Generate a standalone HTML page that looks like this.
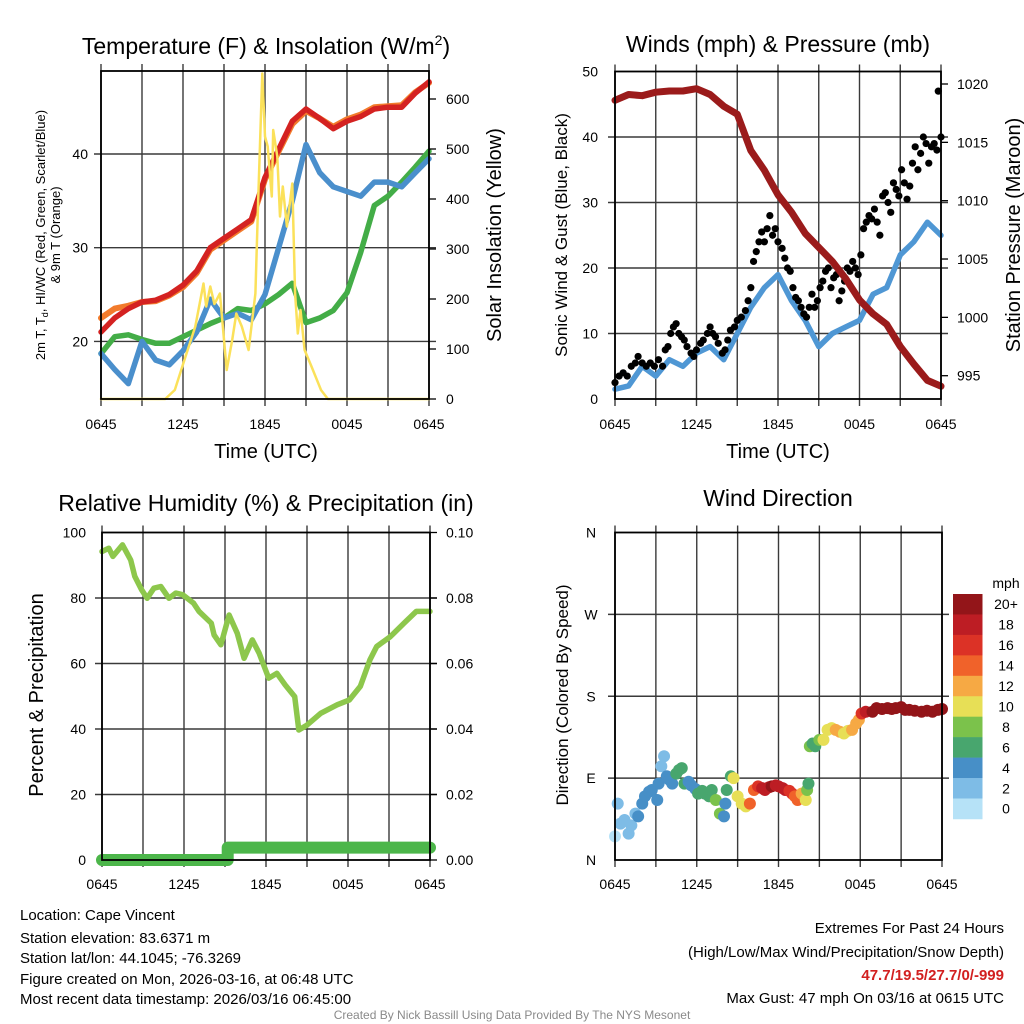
<!DOCTYPE html>
<html><head><meta charset="utf-8"><style>
html,body{margin:0;padding:0;background:#fff;}
svg{display:block;font-family:"Liberation Sans",Arial,sans-serif;}
</style></head><body>
<svg id="chart" width="1024" height="1024" viewBox="0 0 1024 1024" xmlns="http://www.w3.org/2000/svg">
<rect x="0" y="0" width="1024" height="1024" fill="#fff"/>
<g font-size="23" text-anchor="middle" fill="#000">
<text x="266" y="54">Temperature (F) &amp; Insolation (W/m<tspan dy="-9" font-size="14">2</tspan><tspan dy="9">)</tspan></text>
<text x="778" y="52">Winds (mph) &amp; Pressure (mb)</text>
<text x="266" y="511">Relative Humidity (%) &amp; Precipitation (in)</text>
<text x="778" y="506">Wind Direction</text>
</g>
<g font-size="20" text-anchor="middle">
<text x="266" y="458">Time (UTC)</text>
<text x="778" y="458">Time (UTC)</text>
<text transform="translate(501,235) rotate(-90)">Solar Insolation (Yellow)</text>
<text transform="translate(1020,235) rotate(-90)">Station Pressure (Maroon)</text>
<text transform="translate(43,695) rotate(-90)">Percent &amp; Precipitation</text>
</g>
<g font-size="17" text-anchor="middle">
<text transform="translate(567,235) rotate(-90)">Sonic Wind &amp; Gust (Blue, Black)</text>
<text transform="translate(568,695) rotate(-90)">Direction (Colored By Speed)</text>
</g>
<g font-size="13" text-anchor="middle">
<text transform="translate(45,235) rotate(-90)">2m T, T<tspan dy="3" font-size="9">d</tspan><tspan dy="-3">, HI/WC (Red, Green, Scarlet/Blue)</tspan></text>
<text transform="translate(60,235) rotate(-90)">&amp; 9m T (Orange)</text>
</g>
<g font-size="15" fill="#000">
<text x="20" y="920">Location: Cape Vincent</text>
<text x="20" y="943">Station elevation: 83.6371 m</text>
<text x="20" y="963">Station lat/lon: 44.1045; -76.3269</text>
<text x="20" y="984">Figure created on Mon, 2026-03-16, at 06:48 UTC</text>
<text x="20" y="1004">Most recent data timestamp: 2026/03/16 06:45:00</text>
<g text-anchor="end">
<text x="1004" y="933">Extremes For Past 24 Hours</text>
<text x="1004" y="957">(High/Low/Max Wind/Precipitation/Snow Depth)</text>
<text x="1004" y="980" fill="#d22020" font-weight="bold">47.7/19.5/27.7/0/-999</text>
<text x="1004" y="1003">Max Gust: 47 mph On 03/16 at 0615 UTC</text>
</g>
</g>
<text x="512" y="1019" font-size="12" fill="#8a8a8a" text-anchor="middle">Created By Nick Bassill Using Data Provided By The NYS Mesonet</text>
<text x="1006" y="588" font-size="14" text-anchor="middle">mph</text>
<g id="layer"></g>
</svg>
<script>
// ---- data ----
const hours=[0,1,2,3,4,5,6,7,8,9,10,11,12,13,14,15,16,17,18,19,20,21,22,23,24];
const timeTicks=[0,6,12,18,24];
const timeLabels=['0645','1245','1845','0045','0645'];
const tempRed=[21,22.5,23.5,24.2,24.4,25,26,27.5,30,31,32,33,37.5,40.5,43.5,44.8,43.8,42.7,43.5,44,44.8,45,45,46.5,47.7];
const tempOrange=[22.5,23.5,23.8,24.2,24.3,24.9,25.8,27.3,29.8,30.8,31.8,32.8,37.3,40.3,43.2,44.6,43.8,42.9,43.7,44.2,45,45.1,45.2,46.6,47.6];
const tempBlue=[18.7,17,15.5,20,18,17.5,19,21,24.5,22.5,23,22.3,25,30,35,41,38,36.5,36,35.5,37,37,36.5,38,39.5];
const tempGreen=[18.7,20.5,20.7,20.2,19.8,19.8,20.5,21.2,21.9,22.5,23.5,23.3,24,25,26.2,22,22.5,23.3,25.2,29.5,34.5,35.5,37,38.6,40.3];
const solarT=[0,4.7,5.4,6.1,6.9,7.5,7.7,8,8.3,8.7,9.2,9.6,9.9,10.3,10.8,11.3,11.5,11.8,12,12.2,12.5,12.6,12.9,13.1,13.3,13.6,14,14.2,14.4,14.6,14.9,15.4,16.1,16.6,24];
const solarV=[0,0,18,78,145,231,185,225,190,211,58,118,171,145,98,211,398,651,525,505,405,538,485,365,425,345,431,211,131,178,98,65,18,0,0];
const windSpeed=[1.5,2,5,3.5,6,5,7,8,6,10,14,17,19,15,12,8,10,11,12,16,17,22,24,27,25];
const gustT=[0,0.3,0.6,0.9,1.2,1.5,1.7,2,2.3,2.6,2.9,3.2,3.5,3.7,3.9,4.1,4.3,4.5,4.7,4.9,5.1,5.3,5.6,5.8,6,6.3,6.5,6.8,7,7.2,7.4,7.6,7.9,8.1,8.3,8.5,8.8,9,9.3,9.6,9.8,10,10.2,10.4,10.6,10.8,11,11.2,11.4,11.6,11.8,12,12.3,12.5,12.7,12.9,13.1,13.3,13.5,13.7,13.9,14.1,14.3,14.5,14.7,14.9,15.1,15.3,15.5,15.7,15.9,16.1,16.3,16.5,16.7,16.9,17.1,17.3,17.5,17.7,17.9,18.1,18.3,18.5,18.7,18.9,19.1,19.3,19.5,19.7,19.9,20.1,20.3,20.5,20.7,20.9,21.1,21.3,21.5,21.7,21.9,22.1,22.3,22.5,22.7,22.9,23.1,23.3,23.5,23.7,23.8,24];
const gustV=[2.5,3.5,4,3.5,5,5.5,6.5,5.5,5,5.5,5,6,5,7.5,8,10,11,11.5,10,9.5,9,8,7,6.5,7.5,8.5,9,10,11,10,9.5,8.5,7,7.5,9,10.5,11,12,12.5,13.5,15,17,21,22.5,24,25.5,24,26,28,25,26,24,23,21.5,20,19.5,17,15.5,15,14,13,12.5,14,16,14,15,17,18,19.5,20,17,18.5,19,15,16.5,18,20,19.5,21,20,19,22,26,27,28,27.5,29,27,25,31,31.5,30,28.5,33,32,31,35,33,30.5,32.5,36,38.5,35,37.5,40,39,36,38.5,39,38,47,40];
const pressure=[1018.6,1019.1,1019,1019.3,1019.4,1019.4,1019.6,1019.1,1018.1,1017.4,1014.3,1012.6,1010.5,1009,1007.2,1006,1004.8,1003.3,1001.5,1000.3,999.4,997.5,996,994.6,994.1];
const rhT=[0,0.5,0.8,1.5,2.1,2.4,2.9,3.3,3.8,4.3,4.9,5.4,5.9,6.7,7.1,8,8.2,8.7,9.3,9.9,10.4,11,11.5,12.2,12.8,13.4,14.1,14.4,15,16,17.2,18.1,18.9,19.6,20.1,21.1,22.1,23,24];
const rhV=[94.2,95.2,92.7,96.2,91.6,86.6,82.5,79.9,83,83.5,79.9,81.5,81,78.4,75.9,72.3,68.7,65.7,74.8,69.2,61.6,67.2,63.1,55.5,57,53.5,49.9,39.7,41.2,44.8,47.4,48.9,53,61.1,65.2,68.2,72.3,75.9,75.9];
const precipT=[0,9.2,9.2,24];
const precipV=[0,0,0.0038,0.0038];
const dirT=[0,0.2,0.4,0.7,1,1.2,1.5,1.7,2,2.2,2.5,2.7,3.1,3.2,3.4,3.6,3.8,4,4.2,4.5,4.7,4.9,5.1,5.4,5.6,5.9,6.1,6.4,6.6,6.9,7.1,7.4,7.7,8,8.1,8.2,8.5,8.7,9,9.3,9.6,9.9,10.2,10.5,10.8,11,11.3,11.5,11.8,12,12.3,12.5,12.8,13,13.2,13.4,13.7,14,14.1,14.2,14.3,14.5,14.7,15,15.3,15.6,15.9,16.2,16.5,16.8,17.1,17.4,17.7,17.9,18.1,18.4,18.9,19.2,19.6,20,20.3,20.6,21,21.3,21.6,22,22.5,22.9,23.3,23.7,24];
const dirV=[26,62,40,44,29,38,51,48,62,70,75,77,66,84,103,114,92,88,84,95,99,101,84,86,82,78,73,76,73,70,77,66,51,48,62,77,92,90,70,62,59,62,77,81,79,77,80,81,82,81,79,77,76,73,70,66,73,66,77,84,125,128,125,132,132,143,145,143,141,139,142,143,150,154,161,163,163,167,166,167,166,167,168,165,165,164,163,164,163,165,166];
const dirSpeed=[1,2,2,2,2,3,3,4,4,4,4,4,4,4,2,2,4,5,5,6,6,6,6,5,4,5,6,6,6,7,7,8,8,4,4,6,6,10,10,11,10,14,15,17,18,18,19,20,19,19,18,18,17,16,15,15,13,10,8,7,8,7,7,8,10,10,11,13,12,10,11,12,12,13,16,18,20,21,20,21,20,21,21,20,21,21,22,21,21,20,21];
const cbLabels=['20+','18','16','14','12','10','8','6','4','2','0'];
const cbColors=['#931519','#bd1d24','#dc3226','#f0622a','#f6a944','#e7df56','#7bc24b','#48a66e','#478fc7','#7ebce6','#b6e2f7'];
const p1LeftTicks=[20,30,40];
const p1RightTicks=[0,100,200,300,400,500,600];
const p2LeftTicks=[0,10,20,30,40,50];
const p2RightTicks=[995,1000,1005,1010,1015,1020];
const p3LeftTicks=[0,20,40,60,80,100];
const p3RightTicks=[0,0.02,0.04,0.06,0.08,0.10];
const dirTicks=[0,90,180,270,360];
const dirLabels=['N','E','S','W','N'];

// ---- helpers ----
const NS='http://www.w3.org/2000/svg';
const layer=document.getElementById('layer');
function mk(parent,tag,attrs){const e=document.createElementNS(NS,tag);for(const k in attrs)e.setAttribute(k,attrs[k]);parent.appendChild(e);return e;}
function lin(d0,d1,r0,r1){return v=>r0+(v-d0)*(r1-r0)/(d1-d0);}
function pathD(xs,ys,fx,fy){return xs.map((t,i)=>(i?'L':'M')+fx(t).toFixed(1)+' '+fy(ys[i]).toFixed(1)).join(' ');}

const P1={x0:101,x1:429,y0:71,y1:399};
const P2={x0:615,x1:941,y0:71.5,y1:399};
const P3={x0:102,x1:430,y0:532.5,y1:860};
const P4={x0:615,x1:942,y0:532.5,y1:860};

function panel(P,name,hVals,fy){
  const g=mk(layer,'g',{});
  
  
  const fx=lin(0,24,P.x0,P.x1);
  for(let h=0;h<=24;h+=3){
    const l=mk(g,'line',{x1:fx(h),x2:fx(h),y1:P.y0-7,y2:P.y1+7,stroke:'#3a3a3a','stroke-width':1.4});
    
    
  }
  hVals.forEach(v=>{
    const l=mk(g,'line',{x1:P.x0-7,x2:P.x1+7,y1:fy(v),y2:fy(v),stroke:'#3a3a3a','stroke-width':1.4});
    
    
  });
  return fx;
}
function frame(P,name){
  const r=mk(layer,'rect',{x:P.x0,y:P.y0,width:P.x1-P.x0,height:P.y1-P.y0,fill:'none',stroke:'#000','stroke-width':1.8});
  
  
}
function xLabels(P,y,name){
  const fx=lin(0,24,P.x0,P.x1);
  timeTicks.forEach((t,i)=>{
    const tx=mk(layer,'text',{x:fx(t),y:y,'font-size':14,'text-anchor':'middle'});
    tx.textContent=timeLabels[i];
    
    
  });
}
function yLabels(ticks,fy,x,anchor,fmt,name){
  ticks.forEach(v=>{
    const tx=mk(layer,'text',{x:x,y:fy(v)+5,'font-size':14,'text-anchor':anchor});
    tx.textContent=fmt(v);
    
    
  });
}
function rightTicks(P,ticks,fy,name){
  ticks.forEach(v=>{
    const l=mk(layer,'line',{x1:P.x1,x2:P.x1+7,y1:fy(v),y2:fy(v),stroke:'#000','stroke-width':1.3});
    
    
  });
}
function series(xs,ys,fx,fy,color,w,name){
  const p=mk(layer,'path',{d:pathD(xs,ys,fx,fy),fill:'none',stroke:color,'stroke-width':w,'stroke-linejoin':'round','stroke-linecap':'round'});
  
  
  return p;
}

// ---- Panel 1: temperature ----
const y1L=lin(40,30,154,247.7);
const y1R=lin(0,100,399,349);
const fx1=panel(P1,'temperature',p1LeftTicks,y1L);
series(hours,tempOrange,fx1,y1L,'#f27b2c',6,'orange-9m-temp-line');
series(hours,tempRed,fx1,y1L,'#d42221',5.5,'red-2m-temp-line');
series(hours,tempGreen,fx1,y1L,'#43ad47',5.5,'green-dewpoint-line');
series(hours,tempBlue,fx1,y1L,'#4a8fcc',5.5,'blue-windchill-line');
series(solarT,solarV,fx1,y1R,'#fbe15a',2.5,'yellow-insolation-line');
frame(P1,'temperature');
rightTicks(P1,p1RightTicks,y1R,'insolation');
xLabels(P1,429,'temperature');
yLabels(p1LeftTicks,y1L,88,'end',v=>String(v),'temperature-y');
yLabels(p1RightTicks,y1R,446,'start',v=>String(v),'insolation-y');

// ---- Panel 2: winds ----
const y2L=lin(0,50,399,71.5);
const y2R=lin(995,1020,375.7,84);
const fx2=panel(P2,'winds',[10,20,30,40],y2L);
series(hours,windSpeed,fx2,y2L,'#4f97d4',5.5,'blue-sonic-wind-line');
gustT.forEach((t,i)=>{
  const c=mk(layer,'circle',{cx:fx2(t),cy:y2L(gustV[i]),r:3.6,fill:'#000'});
  
  
});
series(hours,pressure,fx2,y2R,'#9b1b1b',7,'maroon-pressure-line');
frame(P2,'winds');
rightTicks(P2,p2RightTicks,y2R,'pressure');
xLabels(P2,429,'winds');
yLabels(p2LeftTicks,y2L,598,'end',v=>String(v),'wind-y');
yLabels(p2RightTicks,y2R,957,'start',v=>String(v),'pressure-y');

// ---- Panel 3: humidity ----
const y3L=lin(0,100,860,532.5);
const y3R=lin(0,0.1,860,532.5);
const fx3=panel(P3,'humidity',[20,40,60,80],y3L);
series(rhT,rhV,fx3,y3L,'#8dc74c',5.5,'relative-humidity-line');
series(precipT,precipV,fx3,y3R,'#4cb64a',12,'precipitation-line');
frame(P3,'humidity');
rightTicks(P3,p3RightTicks,y3R,'precip');
xLabels(P3,889,'humidity');
yLabels(p3LeftTicks,y3L,86,'end',v=>String(v),'humidity-y');
yLabels(p3RightTicks,y3R,446,'start',v=>v.toFixed(2),'precip-y');

// ---- Panel 4: wind direction ----
const y4=lin(0,360,860,532.5);
const fx4=panel(P4,'direction',[90,180,270],y4);
function speedColor(s){let idx=10-Math.min(10,Math.floor(s/2));return cbColors[idx];}
dirT.forEach((t,i)=>{
  const c=mk(layer,'circle',{cx:fx4(t),cy:y4(dirV[i]),r:6,fill:speedColor(dirSpeed[i])});
  
  
});
frame(P4,'direction');
xLabels(P4,889,'direction');
dirTicks.forEach((v,i)=>{
  const tx=mk(layer,'text',{x:591,y:y4(v)+5,'font-size':14,'text-anchor':'middle'});
  tx.textContent=dirLabels[i];
  
  
});
// colorbar
const cbTop=594, cbH=20.45;
cbColors.forEach((col,i)=>{
  const r=mk(layer,'rect',{x:953,y:cbTop+i*cbH,width:29.5,height:cbH+0.3,fill:col});
  
  
  const tx=mk(layer,'text',{x:1006,y:cbTop+i*cbH+cbH/2+5,'font-size':14,'text-anchor':'middle'});
  tx.textContent=cbLabels[i];
  
  
});
</script>
</body></html>
